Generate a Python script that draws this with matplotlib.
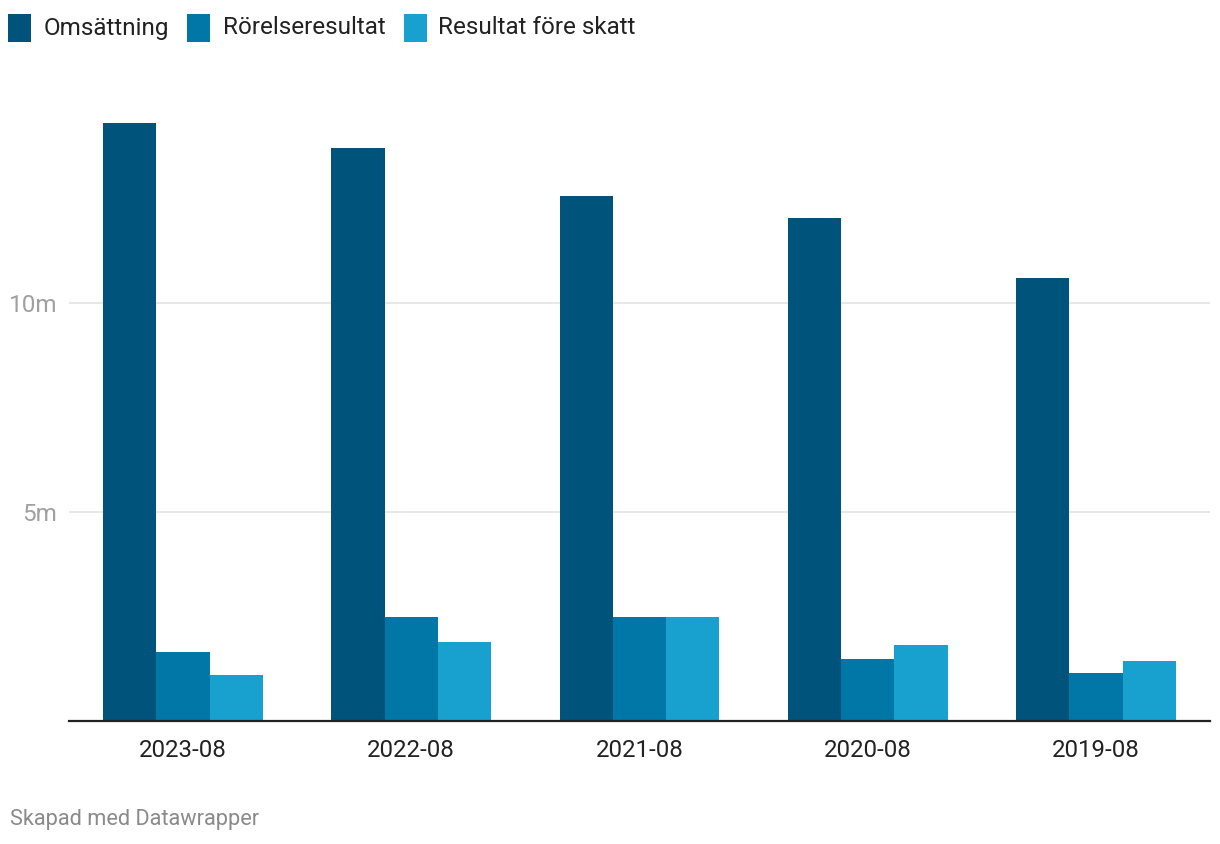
import matplotlib as mpl
mpl.use('Agg')
from matplotlib import pyplot as plt
from matplotlib.patches import Rectangle
import numpy as np

# Data (values in millions)
periods = ['2023-08', '2022-08', '2021-08', '2020-08', '2019-08']
series_names = ['Omsättning', 'Rörelseresultat', 'Resultat före skatt']
omsattning = [14.31, 13.71, 12.56, 12.03, 10.60]
rorelseresultat = [1.65, 2.49, 2.49, 1.48, 1.15]
resultat_fore_skatt = [1.10, 1.89, 2.49, 1.82, 1.44]
y_ticks = [5, 10]
y_tick_labels = ['5m', '10m']

colors = ['#00547c', '#0077a6', '#18a1cf']

plt.rcParams['font.family'] = ['Roboto', 'DejaVu Sans']

W, H = 1220, 844
fig = plt.figure(figsize=(W / 100, H / 100), dpi=100)

# axes placed in pixel terms: left 69, right 1210, top 100, bottom 720
ax = fig.add_axes([69 / W, (H - 721) / H, (1210 - 69) / W, (721 - 100) / H])

x = np.arange(len(periods))
width = 0.7 / 3
for i, (vals, col) in enumerate(zip([omsattning, rorelseresultat, resultat_fore_skatt], colors)):
    ax.bar(x + (i - 1) * width, vals, width=width, color=col, linewidth=0, zorder=2)

ax.set_xlim(-0.5, len(periods) - 0.5)
ax.set_ylim(0, 621 / 41.8)

ax.set_yticks(y_ticks)
ax.set_yticklabels(y_tick_labels)
ax.set_xticks(x)
ax.set_xticklabels(periods)
ax.tick_params(axis='y', length=0, pad=8.5, labelsize=17.5, labelcolor='#a0a0a0')
ax.tick_params(axis='x', length=0, pad=13, labelsize=17.3, labelcolor='#222222')
ax.grid(axis='y', color='#e3e3e3', linewidth=1.2, zorder=0)
for side in ['top', 'right', 'left']:
    ax.spines[side].set_visible(False)
ax.spines['bottom'].set_color('#222222')
ax.spines['bottom'].set_linewidth(1.6)
ax.spines['bottom'].set_zorder(3)

# Legend drawn along the top
legend_items = [(8, 44), (187, 223), (404, 438)]
for (sq_x, tx_x), name, col in zip(legend_items, series_names, colors):
    fig.add_artist(Rectangle((sq_x / W, (H - 42) / H), 23 / W, 28 / H,
                             transform=fig.transFigure, color=col, linewidth=0))
    fig.text(tx_x / W, (H - 28) / H, name, fontsize=17.5, color='#222222',
             ha='left', va='center')

fig.text(10 / W, (H - 819) / H, 'Skapad med Datawrapper', fontsize=15.7,
         color='#8a8a8a', ha='left', va='center')

fig.savefig('out.png', dpi=100, facecolor='white')
